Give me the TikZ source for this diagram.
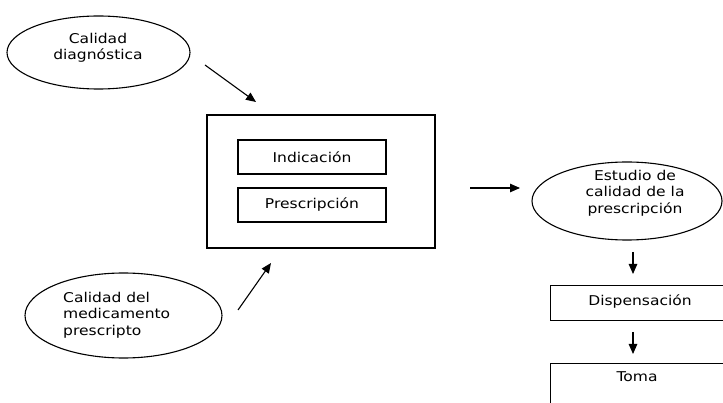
\documentclass[tikz,border=0pt]{standalone}
\usepackage{fontspec}
\setmainfont{DejaVu Sans}[FakeStretch=1.15]
\usetikzlibrary{arrows.meta,shapes.geometric}
\begin{document}
\begin{tikzpicture}[x=1pt,y=-1pt,
  every node/.style={font=\fontsize{13.5}{16.5}\selectfont, inner sep=0pt},
  box/.style={draw, line width=1.3pt, rectangle},
  oval/.style={draw, line width=1.1pt, ellipse},
  arr/.style={line width=1.1pt, -{Triangle[length=10pt,width=8.5pt]}}
]
\useasboundingbox (0,0) rectangle (723,403);
\clip (0,0) rectangle (723,403);
% ellipses
\node[oval, minimum width=183pt, minimum height=73pt] (e1) at (98.5,52.5) {};
\node[align=center] (e1t) at (98,48) {Calidad\\diagnóstica};
\node[oval, minimum width=197pt, minimum height=85pt] (e2) at (123.5,315.5) {};
\node[align=left, anchor=west] (e2t) at (63,315) {Calidad del\\medicamento\\prescripto};
\node[oval, minimum width=190pt, minimum height=78pt] (e3) at (627,201) {};
\node[align=center] (e3t) at (635,193) {Estudio de\\calidad de la\\prescripción};
% boxes
\node[box, minimum width=228pt, minimum height=133pt] (big) at (321,181.5) {};
\node[box, minimum width=148pt, minimum height=34pt] (ind) at (312,157) {Indicación};
\node[box, minimum width=148pt, minimum height=34pt] (pre) at (312,205) {Prescripción};
\node[box, anchor=north west, minimum width=210pt, minimum height=35pt] (disp) at (550,285) {};
\node (dispt) at (640,302) {Dispensación};
\node[box, anchor=north west, minimum width=210pt, minimum height=70pt] (toma) at (550,363) {};
\node (tomat) at (637,377) {Toma};
% arrow end coordinates
\coordinate (a1s) at (205,65);  \coordinate (a1e) at (256,102);
\coordinate (a2s) at (238,310); \coordinate (a2e) at (271,263);
\coordinate (a3s) at (470,188); \coordinate (a3e) at (520,188);
\coordinate (a4s) at (633,252); \coordinate (a4e) at (633,274);
\coordinate (a5s) at (633,332); \coordinate (a5e) at (633,354);
\draw[arr] (a1s) -- (a1e);
\draw[arr] (a2s) -- (a2e);
\draw[arr] (a3s) -- (a3e);
\draw[arr] (a4s) -- (a4e);
\draw[arr] (a5s) -- (a5e);
\end{tikzpicture}
\end{document}
